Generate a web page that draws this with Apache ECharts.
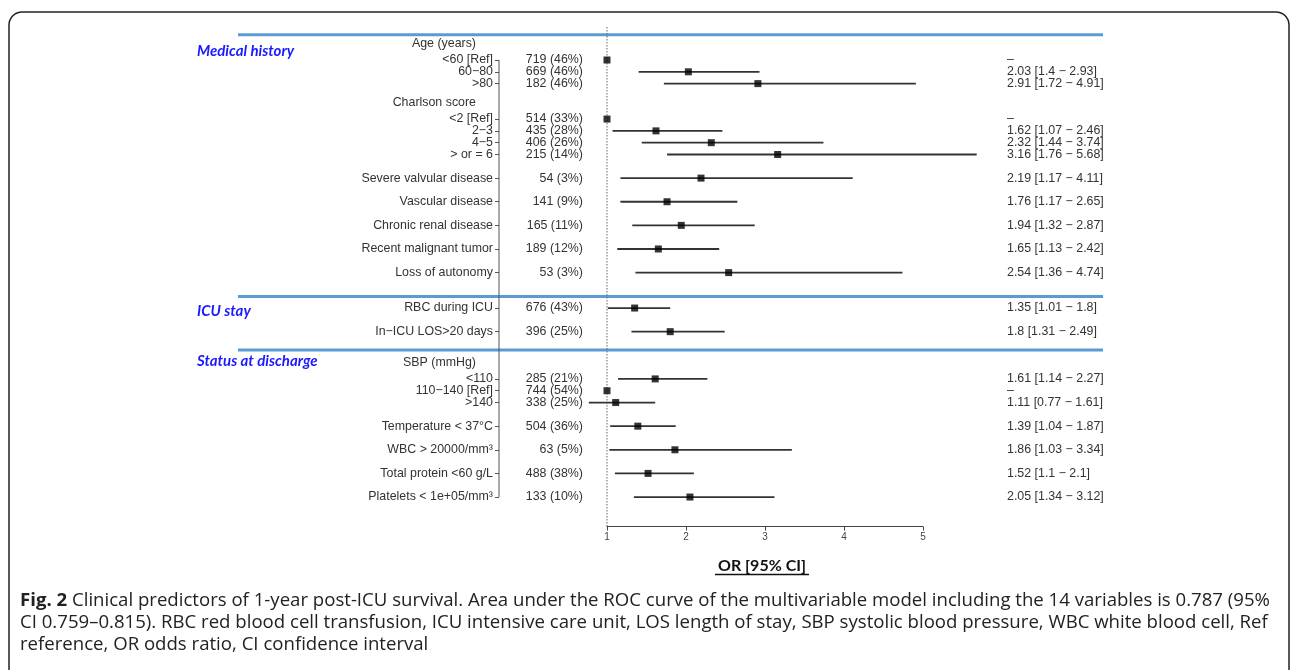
<!DOCTYPE html>
<html>
<head>
<meta charset="utf-8">
<script src="https://cdn.jsdelivr.net/npm/echarts@6/dist/echarts.min.js"></script>
<style>
html,body{margin:0;padding:0;background:#fff;}
#main{width:1292px;height:670px;}
</style>
</head>
<body>
<div id="main"></div>
<script>
// ---------- data ----------
const sections = ['Medical history', 'ICU stay', 'Status at discharge'];
const subHeaders = ['Age (years)', 'Charlson score', 'SBP (mmHg)'];
const variables = ['<60 [Ref]', '60\u221280', '>80',
  '<2 [Ref]', '2\u22123', '4\u22125', '> or = 6',
  'Severe valvular disease', 'Vascular disease', 'Chronic renal disease',
  'Recent malignant tumor', 'Loss of autonomy',
  'RBC during ICU', 'In\u2212ICU LOS>20 days',
  '<110', '110\u2212140 [Ref]', '>140',
  'Temperature < 37\u00b0C', 'WBC > 20000/mm\u00b3', 'Total protein <60 g/L', 'Platelets < 1e+05/mm\u00b3'];
const counts = ['719 (46%)', '669 (46%)', '182 (46%)',
  '514 (33%)', '435 (28%)', '406 (26%)', '215 (14%)',
  '54 (3%)', '141 (9%)', '165 (11%)', '189 (12%)', '53 (3%)',
  '676 (43%)', '396 (25%)',
  '285 (21%)', '744 (54%)', '338 (25%)',
  '504 (36%)', '63 (5%)', '488 (38%)', '133 (10%)'];
const orValues = [1, 2.03, 2.91, 1, 1.62, 2.32, 3.16, 2.19, 1.76, 1.94, 1.65, 2.54, 1.35, 1.8, 1.61, 1, 1.11, 1.39, 1.86, 1.52, 2.05];
const ciLow  = [null, 1.4, 1.72, null, 1.07, 1.44, 1.76, 1.17, 1.17, 1.32, 1.13, 1.36, 1.01, 1.31, 1.14, null, 0.77, 1.04, 1.03, 1.1, 1.34];
const ciHigh = [null, 2.93, 4.91, null, 2.46, 3.74, 5.68, 4.11, 2.65, 2.87, 2.42, 4.74, 1.8, 2.49, 2.27, null, 1.61, 1.87, 3.34, 2.1, 3.12];
const orLabels = ['\u2013', '2.03 [1.4 \u2212 2.93]', '2.91 [1.72 \u2212 4.91]',
  '\u2013', '1.62 [1.07 \u2212 2.46]', '2.32 [1.44 \u2212 3.74]', '3.16 [1.76 \u2212 5.68]',
  '2.19 [1.17 \u2212 4.11]', '1.76 [1.17 \u2212 2.65]', '1.94 [1.32 \u2212 2.87]', '1.65 [1.13 \u2212 2.42]', '2.54 [1.36 \u2212 4.74]',
  '1.35 [1.01 \u2212 1.8]', '1.8 [1.31 \u2212 2.49]',
  '1.61 [1.14 \u2212 2.27]', '\u2013', '1.11 [0.77 \u2212 1.61]',
  '1.39 [1.04 \u2212 1.87]', '1.86 [1.03 \u2212 3.34]', '1.52 [1.1 \u2212 2.1]', '2.05 [1.34 \u2212 3.12]'];
const xTicks = [1, 2, 3, 4, 5];
const xTitle = 'OR [95% CI]';
const captionLines = [
  ['Fig. 2', ' Clinical predictors of 1-year post-ICU survival. Area under the ROC curve of the multivariable model including the 14 variables is 0.787 (95%'],
  ['', 'CI 0.759\u20130.815). RBC red blood cell transfusion, ICU intensive care unit, LOS length of stay, SBP systolic blood pressure, WBC white blood cell, Ref'],
  ['', 'reference, OR odds ratio, CI confidence interval']
];
// row structure (top to bottom): gap rows, section dividers, sub headers, variables
const layout = ['gap','sec','head','var','var','var','gap','head','var','var','var','var','gap',
  'var','gap','var','gap','var','gap','var','gap','var','gap','sec','var','gap','var','gap',
  'sec','head','var','var','var','gap','var','gap','var','gap','var','gap','var','gap','gap'];

// ---------- build slot lookups ----------
const slotKeys = [], slotLabel = [], slotCount = [], slotOr = [], varSlot = [], secSlot = [];
let vi = 0, hi = 0;
layout.forEach((t, i) => {
  slotKeys.push('s' + i);
  if (t === 'var') {
    slotLabel.push(variables[vi]); slotCount.push(counts[vi]); slotOr.push(orLabels[vi]);
    varSlot.push(i); vi++;
  } else if (t === 'head') {
    slotLabel.push('{h|' + subHeaders[hi] + '}'); slotCount.push(''); slotOr.push(''); hi++;
  } else {
    if (t === 'sec') secSlot.push(i);
    slotLabel.push(''); slotCount.push(''); slotOr.push('');
  }
});

const pointData = orValues.map((v, k) => [v, varSlot[k]]);
const ciData = [];
ciLow.forEach((lo, k) => { if (lo !== null) ciData.push([lo, ciHigh[k], varSlot[k]]); });

const FONT = 'Liberation Sans, Arial, sans-serif';
const TXT = '#333';
const GRID_TOP = 18.66, GRID_H = 507.9;

const baseY = {
  type: 'category', data: slotKeys, inverse: true,
  axisLine: { show: false }, axisTick: { show: false }, splitLine: { show: false }
};

const option = {
  animation: false,
  backgroundColor: '#fff',
  grid: { left: 607, right: 369, top: GRID_TOP, height: GRID_H, containLabel: false, outerBoundsMode: 'none' },
  xAxis: {
    type: 'value', min: xTicks[0], max: xTicks[xTicks.length - 1], interval: 1,
    axisLine: { show: true, lineStyle: { color: '#444', width: 1 } },
    axisTick: { show: true, length: 4, lineStyle: { color: '#444' } },
    splitLine: { show: false },
    axisLabel: { color: '#444', fontSize: 10, fontFamily: FONT, margin: 6,
      formatter: v => xTicks.includes(v) ? String(v) : '' }
  },
  yAxis: [
    Object.assign({}, baseY, {
      position: 'left', offset: 108,
      axisTick: { show: true, alignWithLabel: true, length: 4, interval: (i) => layout[i] === 'var',
        lineStyle: { color: '#555', width: 1 } },
      axisLabel: { interval: 0, margin: 6, color: TXT, fontSize: 12.4, fontFamily: FONT,
        formatter: (v, i) => slotLabel[i],
        rich: { h: { color: TXT, fontSize: 12.4, fontFamily: FONT, padding: [0, 17, 9, 0] } } }
    }),
    Object.assign({}, baseY, {
      position: 'left', offset: 24,
      axisLabel: { interval: 0, margin: 0, color: TXT, fontSize: 12.4, fontFamily: FONT,
        formatter: (v, i) => slotCount[i] }
    }),
    Object.assign({}, baseY, {
      position: 'right', offset: 84,
      axisLabel: { interval: 0, margin: 0, color: TXT, fontSize: 12.4, fontFamily: FONT, align: 'left',
        formatter: (v, i) => slotOr[i] }
    })
  ],
  series: [
    {
      type: 'custom', clip: false, z: 2,
      encode: { x: [0, 1], y: 2 },
      data: ciData,
      renderItem: (params, api) => {
        const y = api.value(2);
        const p1 = api.coord([api.value(0), y]);
        const p2 = api.coord([api.value(1), y]);
        return { type: 'line', shape: { x1: p1[0], y1: p1[1], x2: p2[0], y2: p2[1] },
          style: { stroke: '#333', lineWidth: 1.8 } };
      }
    },
    {
      type: 'scatter', z: 3, clip: false,
      symbol: 'rect', symbolSize: 7,
      itemStyle: { color: '#000' },
      data: pointData
    }
  ]
};

const chart = echarts.init(document.getElementById('main'));
chart.setOption(option);

function buildGraphics() {
  const yPx = i => chart.convertToPixel({ yAxisIndex: 0 }, i);
  const xPx = v => chart.convertToPixel({ xAxisIndex: 0 }, v);
  const els = [];
  // outer rounded frame
  els.push({ type: 'rect', shape: { x: 9, y: 12, width: 1280, height: 720, r: 13 },
    style: { fill: 'none', stroke: '#222', lineWidth: 1.5 }, silent: true });
  // section dividers and titles
  const lineNudge = [-1.6, 0.3, -5.2];
  const titleGap = [16.3, 14.3, 11];
  secSlot.forEach((s, k) => {
    const y = yPx(s) + lineNudge[k];
    els.push({ type: 'line', shape: { x1: 238, y1: y, x2: 1103, y2: y },
      style: { stroke: '#5B9BD5', lineWidth: 3 }, silent: true });
    els.push({ type: 'text', x: 197, y: y + titleGap[k],
      style: { text: sections[k], fill: '#1a1aff', font: 'italic bold 15px Lato, "Open Sans", sans-serif',
        textVerticalAlign: 'middle', textAlign: 'left' }, silent: true });
  });
  // left axis line (first to last variable)
  const axX = 607 - 108;
  els.push({ type: 'line', shape: { x1: axX, y1: yPx(varSlot[0]), x2: axX, y2: yPx(varSlot[varSlot.length - 1]) },
    style: { stroke: '#555', lineWidth: 1 }, silent: true });
  // reference line at OR = 1
  const x1 = xPx(1);
  els.push({ type: 'line', shape: { x1: x1, y1: 27, x2: x1, y2: GRID_TOP + GRID_H },
    style: { stroke: '#666', lineWidth: 1, lineDash: [1.5, 1.5] }, silent: true, z: 1 });
  // x title with underline
  const xc = xPx(3);
  els.push({ type: 'text', x: xc - 3, y: 566,
    style: { text: xTitle, fill: '#111', font: 'bold 16px Lato, "Open Sans", sans-serif',
      textAlign: 'center', textVerticalAlign: 'middle' }, silent: true });
  els.push({ type: 'line', shape: { x1: xc - 50, y1: 574.5, x2: xc + 44, y2: 574.5 },
    style: { stroke: '#111', lineWidth: 1.3 }, silent: true });
  // caption
  const capY = [601, 623, 645];
  captionLines.forEach((ln, k) => {
    const txt = (ln[0] ? '{b|' + ln[0] + '}' : '') + '{r|' + ln[1] + '}';
    els.push({ type: 'text', x: 20, y: capY[k],
      style: { text: txt, textVerticalAlign: 'middle', textAlign: 'left',
        rich: {
          b: { fontFamily: '"Open Sans", sans-serif', fontWeight: 'bold', fontSize: 18.6, fill: '#222' },
          r: { fontFamily: '"Open Sans", sans-serif', fontSize: 18.6, fill: '#222' }
        } }, silent: true });
  });
  chart.setOption({ graphic: els });
}
buildGraphics();
</script>
</body>
</html>
